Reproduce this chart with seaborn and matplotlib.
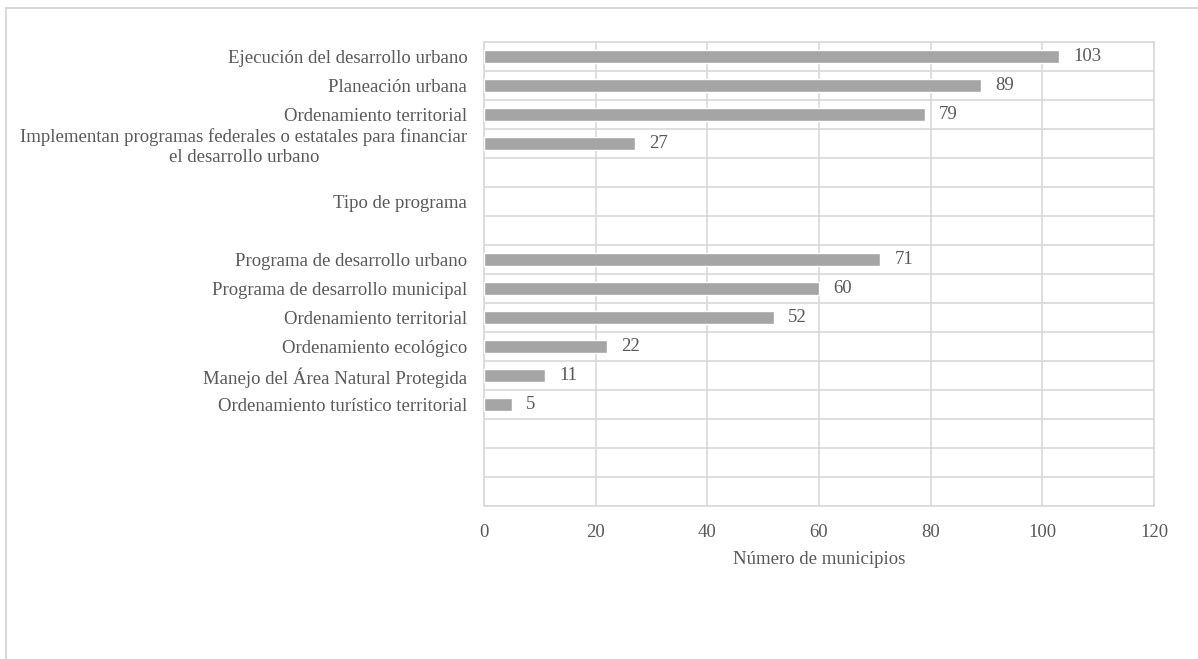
import numpy as np
import pandas as pd
import matplotlib
matplotlib.use('Agg')
import matplotlib.pyplot as plt
import seaborn as sns
from matplotlib.lines import Line2D

# Datos del gráfico (de arriba hacia abajo)
etiquetas = [
    'Ejecución del desarrollo urbano',
    'Planeación urbana',
    'Ordenamiento territorial',
    'Implementan programas federales o estatales para financiar\nel desarrollo urbano',
    '',
    'Tipo de programa',
    '',
    'Programa de desarrollo urbano',
    'Programa de desarrollo municipal',
    'Ordenamiento territorial',
    'Ordenamiento ecológico',
    'Manejo del Área Natural Protegida',
    'Ordenamiento turístico territorial',
    '',
    '',
    '',
]
valores = [103, 89, 79, 27, np.nan, np.nan, np.nan, 71, 60, 52, 22, 11, 5,
           np.nan, np.nan, np.nan]
x_ticks = [0, 20, 40, 60, 80, 100, 120]
x_label = 'Número de municipios'

COLOR_BARRA = '#a5a5a5'
COLOR_GRID = '#d9d9d9'
COLOR_TEXTO = '#595959'
FS = 13.5

sns.set_style('white')
plt.rcParams['font.family'] = ['Liberation Serif', 'DejaVu Serif']

df = pd.DataFrame({
    'clave': [f'c{i}' for i in range(len(etiquetas))],
    'valor': valores,
})

fig = plt.figure(figsize=(11.98, 6.59), dpi=100)
ax = fig.add_axes([484 / 1198, 1 - 506 / 659, (1154 - 484) / 1198, (506 - 42) / 659])

sns.barplot(data=df, x='valor', y='clave', orient='h', color=COLOR_BARRA,
            width=0.45, ax=ax, saturation=1, zorder=3)

n = len(etiquetas)
ax.set_xlim(0, 120)
ax.set_ylim(n - 0.5, -0.5)
ax.set_xticks(x_ticks)
ax.set_xticklabels([str(t) for t in x_ticks], fontsize=FS, color=COLOR_TEXTO)
ax.set_yticks(range(n))
ax.set_yticklabels(etiquetas, fontsize=FS, color=COLOR_TEXTO,
                   multialignment='center', linespacing=1.25)
ax.set_yticks(np.arange(-0.5, n, 1), minor=True)
ax.tick_params(axis='both', which='both', length=0)
ax.tick_params(axis='y', pad=12)
ax.tick_params(axis='x', pad=13)
ax.set_ylabel('')
ax.set_xlabel(x_label, fontsize=FS, color=COLOR_TEXTO, labelpad=7)

ax.grid(True, axis='x', which='major', color=COLOR_GRID, lw=1.2, zorder=0)
ax.grid(True, axis='y', which='minor', color=COLOR_GRID, lw=1.2, zorder=0)
ax.grid(False, axis='y', which='major')
for s in ax.spines.values():
    s.set_color(COLOR_GRID)
    s.set_linewidth(1.2)

# Etiquetas de valor
for i, v in enumerate(valores):
    if not np.isnan(v):
        ax.annotate(f'{int(v)}', xy=(v, i), xytext=(10, 0),
                    textcoords='offset points', ha='left', va='center',
                    fontsize=FS, color=COLOR_TEXTO)

# Marco exterior (solo lados visibles: superior e izquierdo)
fig.add_artist(Line2D([6 / 1198, 1], [1 - 8 / 659, 1 - 8 / 659],
                      transform=fig.transFigure, color=COLOR_GRID, lw=1.5))
fig.add_artist(Line2D([6 / 1198, 6 / 1198], [0, 1 - 8 / 659],
                      transform=fig.transFigure, color=COLOR_GRID, lw=1.5))

fig.savefig('out.png', dpi=100)
